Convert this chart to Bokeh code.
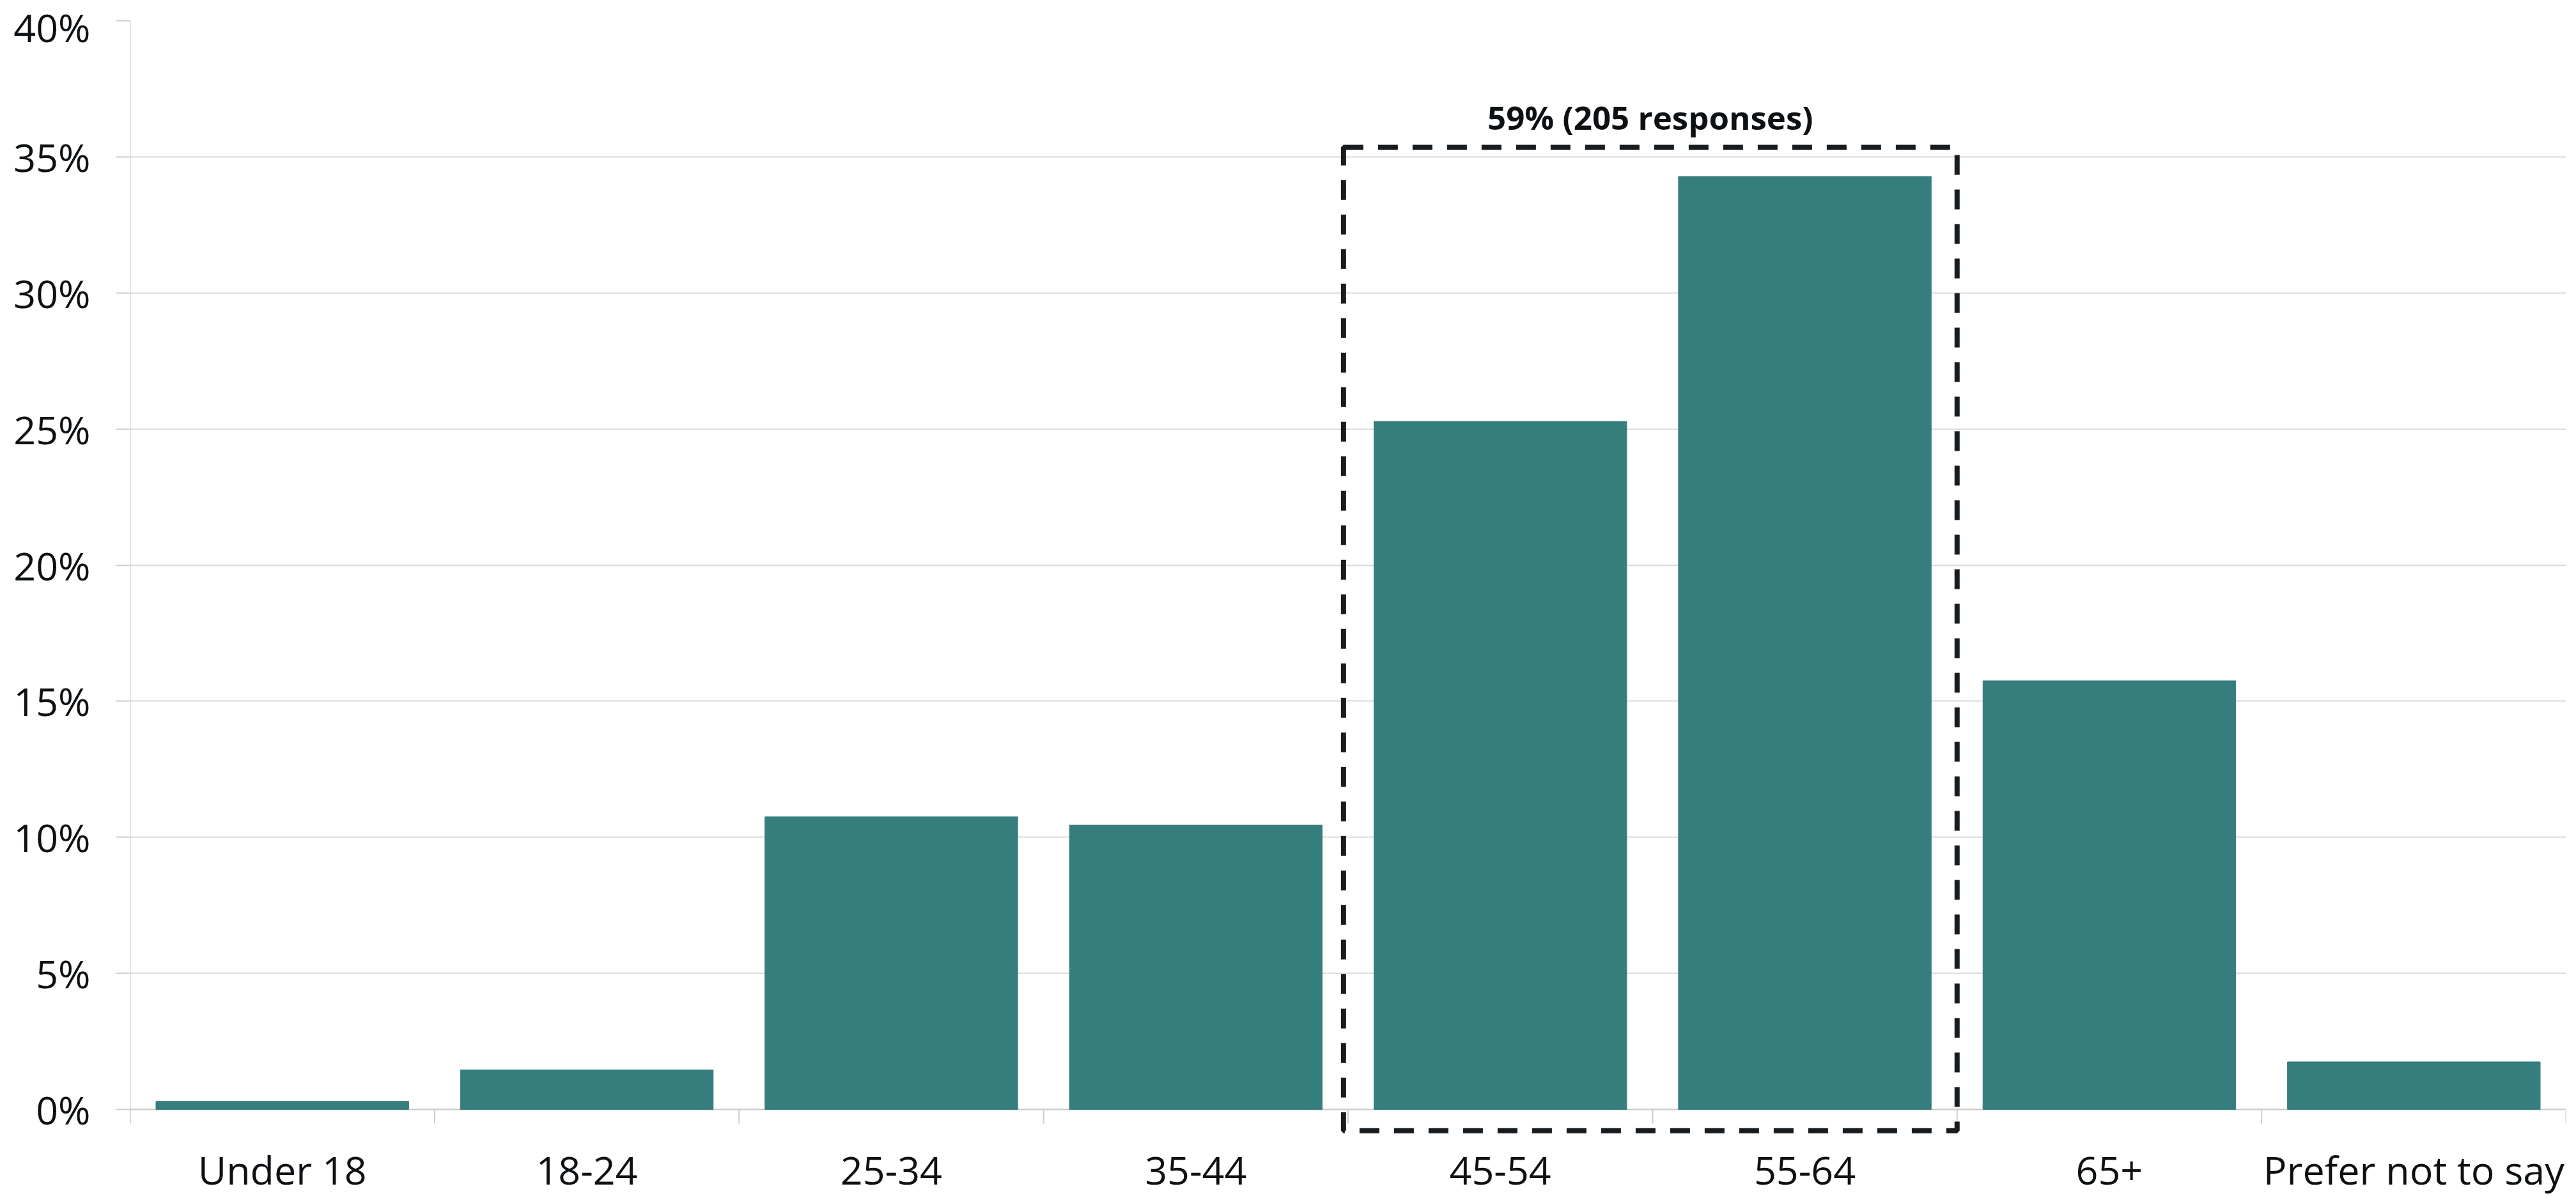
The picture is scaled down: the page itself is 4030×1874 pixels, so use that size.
from bokeh.plotting import figure
from bokeh.models import (Range1d, FixedTicker, NumeralTickFormatter,
                          CustomJSTickFormatter, BoxAnnotation, Label,
                          ColumnDataSource)
from bokeh.embed import file_html
from bokeh.resources import INLINE

# Respondent age bands and their share of all responses
categories = ["Under 18", "18-24", "25-34", "35-44", "45-54", "55-64", "65+", "Prefer not to say"]
shares = [0.003, 0.0145, 0.1075, 0.1045, 0.2528, 0.3428, 0.1575, 0.0175]
y_ticks = [0.0, 0.05, 0.10, 0.15, 0.20, 0.25, 0.30, 0.35, 0.40]

# Bands grouped by the dashed outline and its caption
highlight = ["45-54", "55-64"]
highlight_label = "59% (205 responses)"

FONT = "Open Sans"
TEXT = "#0d1114"
AXIS = "#cccccc"
BAR = "#367e7d"

Y_MAX = 0.40
PX_PER_UNIT = 4257.5          # vertical pixels per unit share
TICK = 22 / PX_PER_UNIT       # tick length in data units
Y_MIN = -45 / PX_PER_UNIT     # a little room below zero for the outline

n = len(categories)
centers = [i + 0.5 for i in range(n)]
bounds = list(range(n + 1))
source = ColumnDataSource(dict(x=centers, cat=categories, share=shares))

p = figure(width=4030, height=1874, output_backend="svg", toolbar_location=None,
           x_range=Range1d(0, n), y_range=Range1d(Y_MIN, Y_MAX),
           min_border_left=203, min_border_right=16,
           min_border_top=32, min_border_bottom=94)
p.outline_line_color = None
p.background_fill_color = "white"
p.border_fill_color = "white"

# Baseline grid, vertical axis line and band boundary ticks
p.ygrid.ticker = FixedTicker(ticks=y_ticks)
p.ygrid.grid_line_color = "#d9d9d9"
p.ygrid.grid_line_width = 2
p.xgrid.grid_line_color = None
p.segment(x0=[0], y0=[-TICK], x1=[0], y1=[Y_MAX], line_color=AXIS, line_width=2)
p.segment(x0=bounds, y0=[-TICK] * len(bounds), x1=bounds, y1=[0] * len(bounds),
          line_color=AXIS, line_width=2)
p.segment(x0=[0], y0=[0], x1=[n], y1=[0], line_color=AXIS, line_width=2)

p.vbar(x="x", top="share", width=0.83, source=source, color=BAR)

# Dashed outline around the highlighted bands
i0 = categories.index(highlight[0])
i1 = categories.index(highlight[-1])
left, right = i0 - 0.015, i1 + 1.0
box = BoxAnnotation(left=left, right=right, top=0.3535, bottom=-0.0078,
                    fill_alpha=0, fill_color=None, line_color="#161c1f",
                    line_alpha=1, line_width=8, line_dash="31 23", level="overlay")
p.add_layout(box)

p.add_layout(Label(x=(left + right) / 2, y=0.3646, text=highlight_label,
                   text_align="center", text_baseline="alphabetic",
                   text_font=FONT, text_font_style="bold",
                   text_font_size="51px", text_color=TEXT))

# Y axis: percentage labels with outward ticks
p.yaxis.ticker = FixedTicker(ticks=y_ticks)
p.yaxis.formatter = NumeralTickFormatter(format="0%")
p.yaxis.major_tick_out = 22
p.yaxis.major_tick_in = 0
p.yaxis.major_tick_line_color = AXIS
p.yaxis.major_tick_line_width = 2
p.yaxis.minor_tick_line_color = None
p.yaxis.axis_line_color = None
p.yaxis.major_label_standoff = 40
p.yaxis.major_label_text_font = FONT
p.yaxis.major_label_text_font_size = "61px"
p.yaxis.major_label_text_color = TEXT

# X axis: labels centred on each band
p.xaxis.ticker = FixedTicker(ticks=centers)
p.xaxis.formatter = CustomJSTickFormatter(args=dict(cats=categories),
                                          code="return cats[Math.floor(tick)] || ''")
p.xaxis.major_tick_out = 0
p.xaxis.major_tick_in = 0
p.xaxis.major_tick_line_color = None
p.xaxis.minor_tick_line_color = None
p.xaxis.axis_line_color = None
p.xaxis.major_label_standoff = 7
p.xaxis.major_label_text_font = FONT
p.xaxis.major_label_text_font_size = "61px"
p.xaxis.major_label_text_color = TEXT

open("out.html", "w").write(file_html(p, INLINE))
